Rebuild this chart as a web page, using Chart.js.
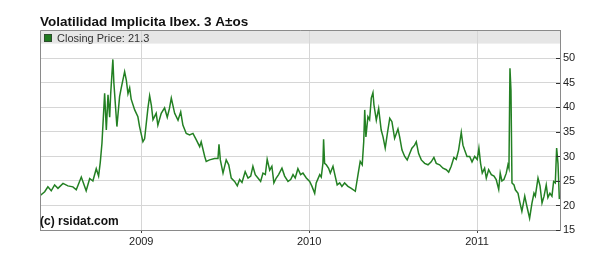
<!DOCTYPE html>
<html>
<head>
<meta charset="utf-8">
<script src="https://cdn.jsdelivr.net/npm/chart.js"></script>
<style>
  body { margin: 0; background: #fff; }
  #wrap { width: 600px; height: 266px; }
</style>
</head>
<body>
<div id="wrap"><canvas id="vol-chart"></canvas></div>
<script>
// Datos (fecha en años decimales, cierre)
var fechas = [
  2008.397, 2008.425, 2008.444, 2008.464, 2008.484, 2008.504, 2008.534, 2008.563, 2008.593, 2008.613,
  2008.643, 2008.672, 2008.693, 2008.712, 2008.732, 2008.746, 2008.756, 2008.766, 2008.782, 2008.792,
  2008.802, 2008.812, 2008.818, 2008.831, 2008.837, 2008.855, 2008.871, 2008.881, 2008.901, 2008.911,
  2008.921, 2008.931, 2008.940, 2008.961, 2008.980, 2008.990, 2009.010, 2009.020, 2009.040, 2009.050,
  2009.060, 2009.070, 2009.089, 2009.099, 2009.119, 2009.139, 2009.155, 2009.168, 2009.179, 2009.199,
  2009.219, 2009.235, 2009.248, 2009.268, 2009.288, 2009.308, 2009.328, 2009.348, 2009.357, 2009.378,
  2009.387, 2009.407, 2009.437, 2009.457, 2009.463, 2009.471, 2009.487, 2009.506, 2009.521, 2009.536,
  2009.556, 2009.572, 2009.586, 2009.600, 2009.619, 2009.636, 2009.652, 2009.665, 2009.679, 2009.695,
  2009.711, 2009.725, 2009.739, 2009.750, 2009.765, 2009.778, 2009.790, 2009.804, 2009.818, 2009.838,
  2009.854, 2009.874, 2009.890, 2009.904, 2009.917, 2009.933, 2009.949, 2009.963, 2009.983, 2010.003,
  2010.017, 2010.033, 2010.042, 2010.063, 2010.072, 2010.082, 2010.086, 2010.092, 2010.102, 2010.116,
  2010.126, 2010.142, 2010.155, 2010.167, 2010.182, 2010.195, 2010.211, 2010.231, 2010.251, 2010.275,
  2010.291, 2010.304, 2010.316, 2010.325, 2010.331, 2010.338, 2010.350, 2010.360, 2010.370, 2010.380,
  2010.386, 2010.400, 2010.414, 2010.429, 2010.440, 2010.453, 2010.465, 2010.480, 2010.493, 2010.509,
  2010.529, 2010.539, 2010.553, 2010.569, 2010.584, 2010.599, 2010.612, 2010.628, 2010.638, 2010.652,
  2010.668, 2010.688, 2010.708, 2010.727, 2010.743, 2010.757, 2010.777, 2010.797, 2010.817, 2010.831,
  2010.846, 2010.862, 2010.876, 2010.890, 2010.906, 2010.916, 2010.926, 2010.940, 2010.956, 2010.970,
  2010.986, 2011.001, 2011.011, 2011.021, 2011.031, 2011.045, 2011.055, 2011.069, 2011.085, 2011.101,
  2011.114, 2011.129, 2011.138, 2011.148, 2011.160, 2011.174, 2011.184, 2011.190, 2011.196, 2011.202,
  2011.208, 2011.220, 2011.228, 2011.244, 2011.254, 2011.267, 2011.284, 2011.297, 2011.313, 2011.327,
  2011.339, 2011.347, 2011.363, 2011.375, 2011.387, 2011.399, 2011.412, 2011.422, 2011.434, 2011.446,
  2011.456, 2011.466, 2011.474, 2011.482, 2011.490
];
var cierres = [
  22.0, 22.8, 23.8, 23.0, 24.2, 23.5, 24.5, 24.0, 23.8, 23.2,
  25.8, 23.0, 25.5, 25.0, 27.5, 26.0, 28.8, 32.7, 42.9, 35.4,
  42.6, 38.0, 42.8, 49.8, 45.0, 36.1, 42.2, 44.0, 47.3, 45.6,
  42.8, 44.0, 41.7, 39.5, 38.1, 36.1, 33.0, 33.6, 39.9, 42.4,
  40.5, 37.5, 38.8, 36.4, 38.8, 39.9, 38.0, 39.8, 41.9, 38.8,
  37.4, 39.1, 36.4, 34.7, 34.4, 34.7, 33.4, 32.0, 33.0, 30.0,
  29.0, 29.3, 29.6, 29.6, 32.5, 29.3, 26.6, 29.3, 28.3, 25.6,
  24.9, 24.0, 25.3, 24.7, 26.9, 25.6, 26.0, 28.0, 26.3, 25.6,
  24.9, 26.6, 26.3, 29.4, 27.2, 28.0, 24.6, 25.6, 26.3, 27.6,
  26.0, 24.9, 25.3, 26.3, 25.6, 27.5, 26.3, 26.6, 25.6, 24.9,
  23.9, 22.5, 24.6, 26.3, 25.8, 28.6, 33.5, 28.6, 28.3, 27.6,
  26.6, 28.0, 26.0, 24.2, 24.6, 23.9, 24.6, 23.9, 23.5, 22.9,
  26.3, 29.0, 28.3, 33.0, 39.5, 34.0, 38.1, 37.5, 41.9, 43.0,
  40.5, 37.4, 39.8, 35.4, 34.0, 31.7, 34.5, 37.8, 37.1, 33.7,
  35.6, 34.0, 31.3, 30.0, 29.3, 30.6, 31.7, 32.3, 33.0, 30.6,
  29.3, 28.6, 28.3, 28.9, 29.8, 28.6, 28.3, 27.6, 27.3, 26.8,
  28.0, 29.8, 29.4, 31.3, 34.9, 32.3, 31.3, 30.0, 30.0, 28.9,
  30.0, 29.4, 31.7, 28.6, 26.6, 27.6, 25.6, 27.3, 26.3, 26.0,
  25.3, 23.3, 26.6, 25.0, 25.3, 26.6, 28.3, 27.6, 48.0, 43.5,
  24.6, 24.2, 23.2, 22.5, 20.8, 18.8, 21.9, 19.8, 17.4, 20.5,
  22.5, 21.9, 25.6, 24.0, 20.5, 21.9, 24.2, 21.6, 22.5, 21.9,
  24.9, 24.6, 31.7, 28.6, 21.3
];
var anios = [2009, 2010, 2011];
var ticksY = [15, 20, 25, 30, 35, 40, 45, 50];

var titulo = 'Volatilidad Implicita Ibex. 3 A\u00b1os';
var leyenda = 'Closing Price: ' + cierres[cierres.length - 1];
var copyright = '(c) rsidat.com';

var verde = '#238023';

// Fond de légende, titre, bordures
var decor = {
  id: 'decor',
  beforeDraw: function(chart) {
    var ctx = chart.ctx, a = chart.chartArea;
    ctx.save();
    ctx.fillStyle = '#e6e6e6';
    ctx.fillRect(a.left, a.top, a.right - a.left, 14);
    ctx.fillStyle = '#f0f0f0';
    ctx.fillRect(a.left, a.top + 13, a.right - a.left, 1);
    ctx.restore();
  },
  afterDraw: function(chart) {
    var ctx = chart.ctx, a = chart.chartArea;
    var y = chart.scales.y;
    ctx.save();
    // bordures haut et gauche
    ctx.strokeStyle = '#8a8a8a';
    ctx.lineWidth = 1;
    ctx.beginPath();
    ctx.moveTo(a.left + 0.5, a.bottom);
    ctx.lineTo(a.left + 0.5, a.top + 0.5);
    ctx.lineTo(a.right, a.top + 0.5);
    ctx.stroke();
    // petites marques à droite
    ctx.strokeStyle = '#333';
    ticksY.forEach(function(v) {
      var py = Math.round(y.getPixelForValue(v)) + 0.5;
      ctx.beginPath();
      ctx.moveTo(a.right - 4, py);
      ctx.lineTo(a.right, py);
      ctx.stroke();
    });
    // titre
    ctx.fillStyle = '#111';
    ctx.font = 'bold 13.5px "Liberation Sans", Arial, sans-serif';
    ctx.textBaseline = 'alphabetic';
    ctx.fillText(titulo, 40, 26);
    // légende
    ctx.fillStyle = '#1f7a1f';
    ctx.fillRect(44, 34, 8, 8);
    ctx.strokeStyle = '#2d4d2d';
    ctx.strokeRect(44.5, 34.5, 7, 7);
    ctx.fillStyle = '#333';
    ctx.font = '11px "Liberation Sans", Arial, sans-serif';
    ctx.fillText(leyenda, 57, 41.5);
    // copyright
    ctx.fillStyle = '#111';
    ctx.font = 'bold 12px "Liberation Sans", Arial, sans-serif';
    ctx.fillText(copyright, 40, 224.5);
    ctx.restore();
  }
};

var puntos = fechas.map(function(f, i) { return { x: f, y: cierres[i] }; });

var config = {
  type: 'line',
  data: {
    datasets: [{
      label: 'Closing Price',
      data: puntos,
      borderColor: verde,
      borderWidth: 1.5,
      pointRadius: 0,
      tension: 0,
      fill: false
    }]
  },
  options: {
    responsive: true,
    maintainAspectRatio: false,
    animation: false,
    layout: { padding: { left: 40, top: 30, right: 0, bottom: 0 } },
    plugins: {
      legend: { display: false },
      tooltip: { enabled: false }
    },
    scales: {
      x: {
        type: 'linear',
        min: 2008.397,
        max: 2011.494,
        afterBuildTicks: function(scale) {
          scale.ticks = anios.map(function(v) { return { value: v }; });
        },
        afterFit: function(scale) { scale.height = 36; },
        grid: { color: '#d6d6d6', tickLength: 3, tickColor: '#444' },
        border: { display: true, color: '#8a8a8a' },
        ticks: {
          color: '#222',
          padding: 2,
          maxRotation: 0,
          font: { family: '"Liberation Sans", Arial, sans-serif', size: 11 },
          callback: function(v) { return String(v); }
        }
      },
      y: {
        position: 'right',
        min: 15,
        max: 55.8,
        afterBuildTicks: function(scale) {
          scale.ticks = ticksY.map(function(v) { return { value: v }; });
        },
        afterFit: function(scale) { scale.width = 40; },
        grid: { color: '#d6d6d6', drawTicks: false },
        border: { display: true, color: '#8a8a8a' },
        ticks: {
          color: '#222',
          padding: 3,
          font: { family: '"Liberation Sans", Arial, sans-serif', size: 11 },
          callback: function(v) { return String(v); }
        }
      }
    }
  },
  plugins: [decor]
};

window.onload = function() {
  var ctx = document.getElementById('vol-chart').getContext('2d');
  window.volChart = new Chart(ctx, config);
};
</script>
</body>
</html>
